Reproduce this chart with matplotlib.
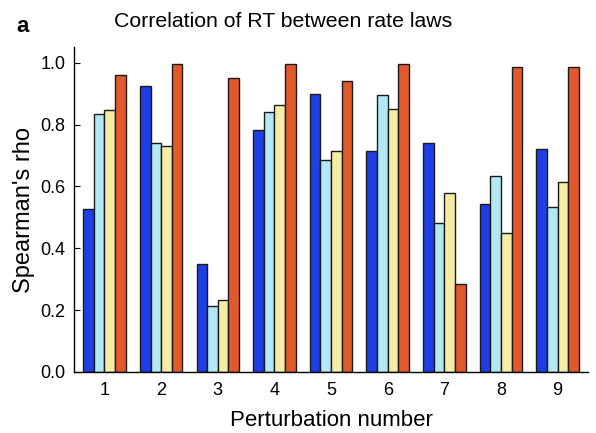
import numpy as np
import matplotlib.pyplot as plt

plt.rcParams['font.family'] = ['Liberation Sans', 'DejaVu Sans']

# Spearman's rho per perturbation, one list per rate-law comparison
perturbations = [1, 2, 3, 4, 5, 6, 7, 8, 9]
rho_blue = [0.527, 0.923, 0.350, 0.783, 0.899, 0.714, 0.740, 0.544, 0.722]
rho_cyan = [0.835, 0.740, 0.214, 0.842, 0.686, 0.896, 0.481, 0.635, 0.532]
rho_yellow = [0.846, 0.731, 0.233, 0.863, 0.714, 0.850, 0.578, 0.449, 0.614]
rho_red = [0.961, 0.997, 0.950, 0.997, 0.942, 0.997, 0.285, 0.985, 0.985]

series = [rho_blue, rho_cyan, rho_yellow, rho_red]
colors = ['#1f3fe6', '#b3e8f2', '#f7eca4', '#e2592b']

fig = plt.figure(figsize=(5.96, 4.33), dpi=100)
ax = fig.add_axes([0.124, 0.141, 0.863, 0.750])

x = np.array(perturbations)
w = 0.1875
for i, (vals, c) in enumerate(zip(series, colors)):
    ax.bar(x + (i - 1.5) * w, vals, width=w, color=c, edgecolor='#1a1a1a', linewidth=1.0)

ax.set_xlim(0.46, 9.54)
ax.set_ylim(0, 1.05)
ax.set_xticks(perturbations)
ax.set_yticks([0.0, 0.2, 0.4, 0.6, 0.8, 1.0])
ax.set_yticklabels(['0.0', '0.2', '0.4', '0.6', '0.8', '1.0'])
ax.tick_params(axis='y', direction='in', length=4, labelsize=13, pad=6)
ax.tick_params(axis='x', length=0, labelsize=13, pad=7)
for s in ['top', 'right']:
    ax.spines[s].set_visible(False)
ax.spines['left'].set_linewidth(1.0)
ax.spines['bottom'].set_linewidth(1.0)

ax.set_ylabel("Spearman's rho", fontsize=17, labelpad=4)
ax.set_xlabel("Perturbation number", fontsize=16, labelpad=8)

fig.text(0.475, 0.951, "Correlation of RT between rate laws", fontsize=15.3,
         ha='center', va='center')
fig.text(0.028, 0.938, "a", fontsize=16, fontweight='bold', ha='left', va='center')

fig.savefig('out.png', dpi=100)
